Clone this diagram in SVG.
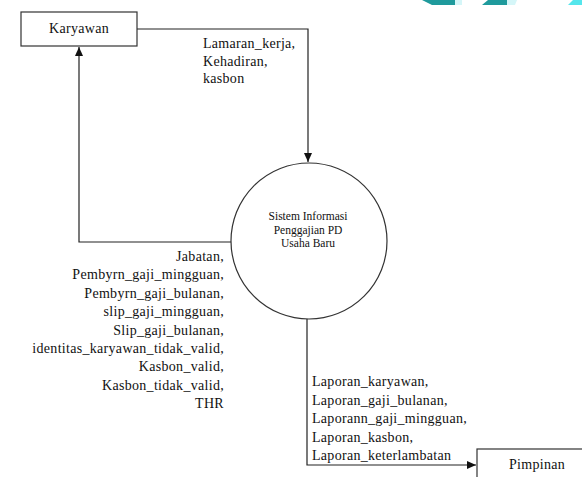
<svg xmlns="http://www.w3.org/2000/svg" width="582" height="477" viewBox="0 0 582 477">
<style>
.box{fill:#fff;stroke:#333;stroke-width:1.2}
.ln{fill:none;stroke:#222;stroke-width:1.2}
.lbl{font-family:'Liberation Serif','Times New Roman',serif;font-size:14px;letter-spacing:0.3px;fill:#111}
.cir{font-family:'Liberation Serif',serif;font-size:11.5px;fill:#111;text-anchor:middle}
</style>
<defs>
<marker id="ah" markerWidth="10" markerHeight="10" refX="9" refY="5" orient="auto" markerUnits="userSpaceOnUse">
<path d="M0,1 L9,5 L0,9 Z" fill="#111"/>
</marker>
</defs>
<rect width="582" height="477" fill="#fff"/>
<g id="deco">
<polygon points="422,0 455,0 455,5 432,5" fill="#1f9a9c"/>
<polygon points="455,0 462,0 462,5 455,5" fill="#d5f6f8"/>
<polygon points="488,0 507,0 507,5 482,5" fill="#1f9a9c"/>
<polygon points="507,0 517,0 515,5 507,5" fill="#d5f6f8"/>
<polygon points="573,0 582,0 582,5 568,5" fill="#55e6ec"/>
</g>
<g id="connectors">
<polyline class="ln" points="137,29 308,29 308,162" marker-end="url(#ah)"/>
<polyline class="ln" points="231,242 79,242 79,47" marker-end="url(#ah)"/>
<polyline class="ln" points="307,319 307,465 476,465" marker-end="url(#ah)"/>
<text class="lbl" x="203" y="48">Lamaran_kerja,</text>
<text class="lbl" x="203" y="66">Kehadiran,</text>
<text class="lbl" x="203" y="83">kasbon</text>
<g text-anchor="end">
<text class="lbl" x="224" y="261">Jabatan,</text>
<text class="lbl" x="224" y="279.4">Pembyrn_gaji_mingguan,</text>
<text class="lbl" x="224" y="297.8">Pembyrn_gaji_bulanan,</text>
<text class="lbl" x="224" y="316.2">slip_gaji_mingguan,</text>
<text class="lbl" x="224" y="334.6">Slip_gaji_bulanan,</text>
<text class="lbl" x="224" y="353">identitas_karyawan_tidak_valid,</text>
<text class="lbl" x="224" y="371.4">Kasbon_valid,</text>
<text class="lbl" x="224" y="389.8">Kasbon_tidak_valid,</text>
<text class="lbl" x="224" y="408.2">THR</text>
</g>
<text class="lbl" x="312" y="386">Laporan_karyawan,</text>
<text class="lbl" x="312" y="404.5">Laporan_gaji_bulanan,</text>
<text class="lbl" x="312" y="423">Laporann_gaji_mingguan,</text>
<text class="lbl" x="312" y="441.5">Laporan_kasbon,</text>
<text class="lbl" x="312" y="460">Laporan_keterlambatan</text>
</g>
<g id="karyawan">
<rect class="box" x="21" y="12" width="116" height="34"/>
<text class="lbl" x="79" y="33" text-anchor="middle">Karyawan</text>
</g>
<g id="sistem">
<circle class="box" cx="309" cy="241" r="78"/>
<text class="cir" x="308" y="220">Sistem Informasi</text>
<text class="cir" x="308" y="233.5">Penggajian PD</text>
<text class="cir" x="308" y="247">Usaha Baru</text>
</g>
<g id="pimpinan">
<rect class="box" x="477" y="449" width="125" height="40"/>
<text class="lbl" x="537" y="469" text-anchor="middle">Pimpinan</text>
</g>
</svg>
